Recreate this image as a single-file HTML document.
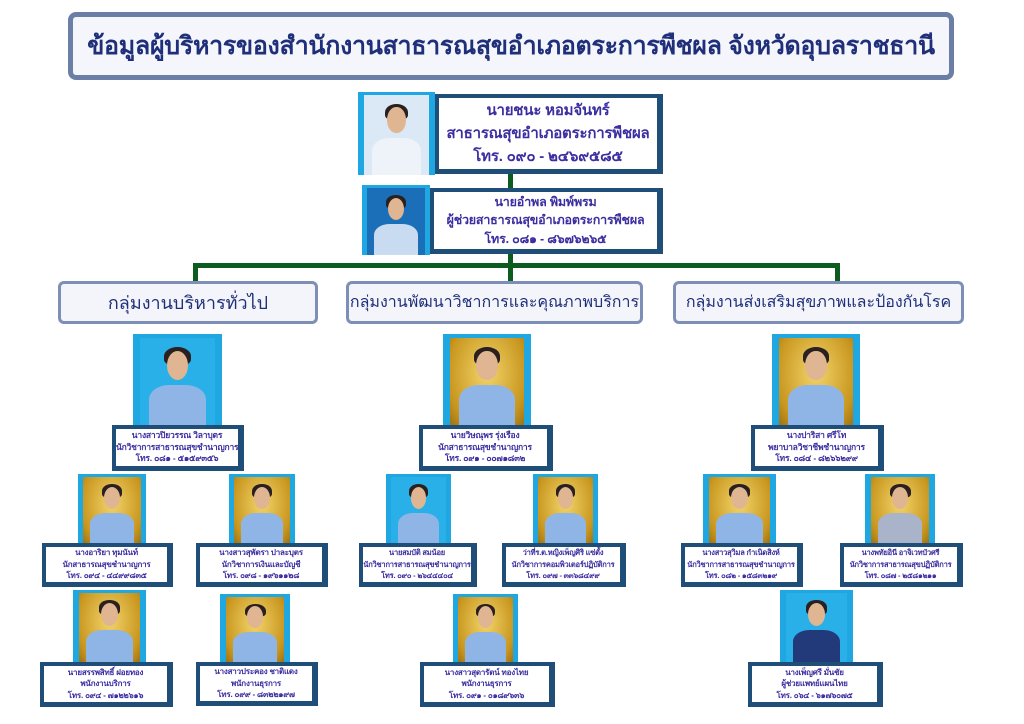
<!DOCTYPE html>
<html><head><meta charset="utf-8"><style>
*{margin:0;padding:0;box-sizing:border-box}
body{width:1024px;height:724px;background:#fff;position:relative;overflow:hidden;font-family:"Liberation Sans","Noto Sans CJK SC","WenQuanYi Zen Hei",sans-serif}
.a{position:absolute}
.title{left:68px;top:12px;width:886px;height:68px;border:5px solid #6b7fa6;border-radius:8px;background:#f4f6fb;color:#1f2f7a;font-weight:bold;font-size:25px;display:flex;align-items:center;justify-content:center;white-space:nowrap;letter-spacing:-0.3px}
.grp{height:43px;top:281px;border:3px solid #7d8fb5;border-radius:6px;background:#f3f5fa;color:#1f2f7a;font-size:18px;display:flex;align-items:center;justify-content:center;white-space:nowrap}
.box{background:#fff;border:4px solid #1f4e79;border-right-width:6px;border-bottom-width:5px;color:#3a2ea0;text-align:center;display:flex;flex-direction:column;justify-content:center;font-size:8px;line-height:11.5px;font-weight:bold;white-space:nowrap;letter-spacing:-0.2px}
.ph{background:#1ea7e1;overflow:hidden}
.ph .in{position:absolute;left:8%;right:8%;top:4%;bottom:0;background:radial-gradient(ellipse at 50% 40%,#f2d46a,#c8961e 75%,#9c7013)}
.ph .hd{position:absolute;left:38%;width:24%;top:18%;height:32%;border-radius:50%;background:#e0b592}
.ph .hr{position:absolute;left:35%;width:30%;top:14%;height:20%;border-radius:50% 50% 30% 30%;background:#2a2020}
.ph .sh{position:absolute;left:18%;right:18%;top:55%;bottom:0;border-radius:35% 35% 0 0;background:#8fb4e6}
.g{background:#0b5c1e}
</style></head><body>
<div class="a title">ข้อมูลผู้บริหารของสำนักงานสาธารณสุขอำเภอตระการพืชผล จังหวัดอุบลราชธานี</div>

<div class="a g" style="left:508px;top:173px;width:5px;height:95px"></div>
<div class="a g" style="left:193px;top:263px;width:647px;height:5px"></div>
<div class="a g" style="left:193px;top:263px;width:5px;height:18px"></div>
<div class="a g" style="left:508px;top:263px;width:5px;height:18px"></div>
<div class="a g" style="left:835px;top:263px;width:5px;height:18px"></div>

<div class="a ph" style="left:358px;top:92px;width:77px;height:83px"><div class="in" style="background:#dbe8f5"></div><div class="sh" style="background:#eef3fa"></div><div class="hr"></div><div class="hd"></div></div>
<div class="a box" style="left:435px;top:94px;width:228px;height:80px;font-size:15px;line-height:23px"><div>นายชนะ หอมจันทร์</div><div>สาธารณสุขอำเภอตระการพืชผล</div><div>โทร. ๐๙๐ - ๒๔๖๙๕๘๕</div></div>
<div class="a ph" style="left:362px;top:185px;width:68px;height:70px"><div class="in" style="background:#1a6fb8"></div><div class="sh" style="background:#c9dbf0"></div><div class="hr"></div><div class="hd"></div></div>
<div class="a box" style="left:430px;top:188px;width:233px;height:66px;font-size:12.5px;line-height:18.5px"><div>นายอำพล พิมพ์พรม</div><div>ผู้ช่วยสาธารณสุขอำเภอตระการพืชผล</div><div>โทร. ๐๘๑ - ๘๖๗๖๒๖๕</div></div>

<div class="a grp" style="left:58px;width:260px">กลุ่มงานบริหารทั่วไป</div>
<div class="a grp" style="left:346px;width:297px;font-size:16px">กลุ่มงานพัฒนาวิชาการและคุณภาพบริการ</div>
<div class="a grp" style="left:673px;width:291px;font-size:16px">กลุ่มงานส่งเสริมสุขภาพและป้องกันโรค</div>

<!-- col1 -->
<div class="a ph" style="left:133px;top:334px;width:89px;height:92px"><div class="in" style="background:#29b0e8"></div><div class="sh"></div><div class="hr"></div><div class="hd"></div></div>
<div class="a box" style="left:112px;top:425px;width:132px;height:46px;font-size:8.5px"><div>นางสาวปิยวรรณ วิลาบุตร</div><div>นักวิชาการสาธารณสุขชำนาญการ</div><div>โทร. ๐๘๑ - ๕๑๕๙๓๕๖</div></div>
<div class="a ph" style="left:78px;top:474px;width:68px;height:70px"><div class="in"></div><div class="sh"></div><div class="hr"></div><div class="hd"></div></div>
<div class="a box" style="left:42px;top:543px;width:131px;height:44px"><div>นางอาริยา ทุมนันท์</div><div>นักสาธารณสุขชำนาญการ</div><div>โทร. ๐๙๔ - ๔๔๙๙๘๓๕</div></div>
<div class="a ph" style="left:229px;top:474px;width:66px;height:70px"><div class="in"></div><div class="sh"></div><div class="hr"></div><div class="hd"></div></div>
<div class="a box" style="left:196px;top:543px;width:132px;height:44px"><div>นางสาวสุพัตรา ปาละบุตร</div><div>นักวิชาการเงินและบัญชี</div><div>โทร. ๐๙๘ - ๑๙๖๑๑๒๘</div></div>
<div class="a ph" style="left:73px;top:590px;width:73px;height:73px"><div class="in"></div><div class="sh"></div><div class="hr"></div><div class="hd"></div></div>
<div class="a box" style="left:40px;top:662px;width:133px;height:45px"><div>นายสรรพสิทธิ์ ฝอยทอง</div><div>พนักงานบริการ</div><div>โทร. ๐๙๔ - ๗๑๒๒๖๑๖</div></div>
<div class="a ph" style="left:220px;top:594px;width:70px;height:69px"><div class="in"></div><div class="sh"></div><div class="hr"></div><div class="hd"></div></div>
<div class="a box" style="left:196px;top:662px;width:122px;height:44px"><div>นางสาวประคอง ชาติแดง</div><div>พนักงานธุรการ</div><div>โทร. ๐๙๙ - ๘๓๒๒๑๙๗</div></div>

<!-- col2 -->
<div class="a ph" style="left:443px;top:334px;width:88px;height:92px"><div class="in"></div><div class="sh"></div><div class="hr"></div><div class="hd"></div></div>
<div class="a box" style="left:419px;top:425px;width:134px;height:46px;font-size:8.5px"><div>นายวิษณุพร รุ่งเรือง</div><div>นักสาธารณสุขชำนาญการ</div><div>โทร. ๐๙๑ - ๐๐๗๑๘๓๒</div></div>
<div class="a ph" style="left:386px;top:474px;width:65px;height:70px"><div class="in" style="background:#29b0e8"></div><div class="sh"></div><div class="hr"></div><div class="hd"></div></div>
<div class="a box" style="left:359px;top:543px;width:118px;height:44px;font-size:7.5px"><div>นายสมบัติ สมน้อย</div><div>นักวิชาการสาธารณสุขชำนาญการ</div><div>โทร. ๐๙๐ - ๒๖๔๔๔๐๔</div></div>
<div class="a ph" style="left:533px;top:474px;width:65px;height:70px"><div class="in"></div><div class="sh"></div><div class="hr"></div><div class="hd"></div></div>
<div class="a box" style="left:502px;top:543px;width:124px;height:44px;font-size:7.5px"><div>ว่าที่ร.ต.หญิงเพ็ญศิริ แซ่ตั้ง</div><div>นักวิชาการคอมพิวเตอร์ปฏิบัติการ</div><div>โทร. ๐๙๗ - ๓๓๖๘๔๙๙</div></div>
<div class="a ph" style="left:453px;top:594px;width:65px;height:69px"><div class="in"></div><div class="sh"></div><div class="hr"></div><div class="hd"></div></div>
<div class="a box" style="left:420px;top:662px;width:135px;height:45px"><div>นางสาวสุดารัตน์ ทองไทย</div><div>พนักงานธุรการ</div><div>โทร. ๐๙๑ - ๐๑๘๙๖๓๖</div></div>

<!-- col3 -->
<div class="a ph" style="left:772px;top:334px;width:88px;height:92px"><div class="in"></div><div class="sh"></div><div class="hr"></div><div class="hd"></div></div>
<div class="a box" style="left:751px;top:425px;width:133px;height:46px;font-size:8.5px"><div>นางปาริสา ศรีโท</div><div>พยาบาลวิชาชีพชำนาญการ</div><div>โทร. ๐๘๔ - ๘๒๖๖๒๙๙</div></div>
<div class="a ph" style="left:703px;top:474px;width:73px;height:70px"><div class="in"></div><div class="sh"></div><div class="hr"></div><div class="hd"></div></div>
<div class="a box" style="left:681px;top:543px;width:122px;height:44px;font-size:7.5px"><div>นางสาวสุวิมล กำเนิดสิงห์</div><div>นักวิชาการสาธารณสุขชำนาญการ</div><div>โทร. ๐๘๒ - ๑๕๘๓๒๑๙</div></div>
<div class="a ph" style="left:865px;top:474px;width:70px;height:70px"><div class="in"></div><div class="sh" style="background:#a9b3c9"></div><div class="hr"></div><div class="hd"></div></div>
<div class="a box" style="left:840px;top:543px;width:123px;height:44px;font-size:7.5px"><div>นางพทัยอินี อาจิเวทบัวศรี</div><div>นักวิชาการสาธารณสุขปฏิบัติการ</div><div>โทร. ๐๘๗ - ๒๕๘๑๒๑๑</div></div>
<div class="a ph" style="left:780px;top:590px;width:73px;height:73px"><div class="in" style="background:#29b0e8"></div><div class="sh" style="background:#233a7a"></div><div class="hr"></div><div class="hd"></div></div>
<div class="a box" style="left:748px;top:662px;width:135px;height:45px"><div>นางเพ็ญศรี มั่นชัย</div><div>ผู้ช่วยแพทย์แผนไทย</div><div>โทร. ๐๖๔ - ๖๑๗๖๐๗๕</div></div>
</body></html>
